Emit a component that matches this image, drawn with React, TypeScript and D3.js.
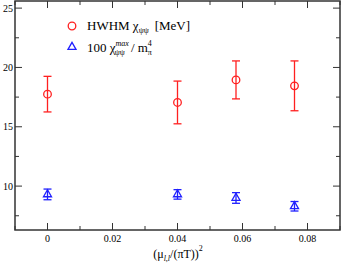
import { useRef, useEffect } from 'react'
import * as d3 from 'd3'

const xVals = [0, 0.04, 0.058, 0.076]
const hwhm = [17.75, 17.05, 18.95, 18.45]
const hwhmErr = [1.5, 1.8, 1.6, 2.1]
const chiMax = [9.3, 9.3, 9.0, 8.3]
const chiErr = [0.45, 0.4, 0.45, 0.4]
const xTicks = [0, 0.02, 0.04, 0.06, 0.08]
const yTicks = [10, 15, 20, 25]

export default function App() {
  const ref = useRef<SVGSVGElement>(null)

  useEffect(() => {
    const svg = d3.select(ref.current)
    svg.selectAll('*').remove()

    const left = 15, right = 340, top = 1, bottom = 230
    const x = d3.scaleLinear().domain([-0.01, 0.09]).range([left, right])
    const y = d3.scaleLinear().domain([6.3, 25.6]).range([bottom, top])
    const font = "'Liberation Serif', 'DejaVu Serif', serif"
    const axisColor = '#333'

    svg.append('rect')
      .attr('x', left).attr('y', top)
      .attr('width', right - left).attr('height', bottom - top)
      .attr('fill', 'none').attr('stroke', axisColor).attr('stroke-width', 1.5)

    const xMinor = d3.range(-0.01, 0.0901, 0.01)
    const yMinor = d3.range(7.5, 25.6, 2.5)

    // ticks, inward on all four sides
    xMinor.forEach(v => {
      const major = xTicks.some(t => Math.abs(t - v) < 1e-6)
      const len = major ? 7 : 4
      svg.append('line').attr('x1', x(v)).attr('x2', x(v)).attr('y1', bottom).attr('y2', bottom - len).attr('stroke', axisColor)
      svg.append('line').attr('x1', x(v)).attr('x2', x(v)).attr('y1', top).attr('y2', top + len).attr('stroke', axisColor)
    })
    yMinor.forEach(v => {
      const major = yTicks.includes(v)
      const len = major ? 7 : 4
      svg.append('line').attr('x1', left).attr('x2', left + len).attr('y1', y(v)).attr('y2', y(v)).attr('stroke', axisColor)
      svg.append('line').attr('x1', right).attr('x2', right - len).attr('y1', y(v)).attr('y2', y(v)).attr('stroke', axisColor)
    })

    xTicks.forEach(v => {
      svg.append('text').attr('x', x(v)).attr('y', bottom + 12)
        .attr('text-anchor', 'middle').attr('font-family', font).attr('font-size', 10)
        .text(v === 0 ? '0' : d3.format('.2f')(v))
    })
    yTicks.forEach(v => {
      svg.append('text').attr('x', left - 2).attr('y', y(v) + 3.5)
        .attr('text-anchor', 'end').attr('font-family', font).attr('font-size', 10)
        .text(v)
    })

    // x label
    const xl = svg.append('text').attr('x', 178).attr('y', 258)
      .attr('text-anchor', 'middle').attr('font-family', font).attr('font-size', 12)
    xl.append('tspan').text('(μ')
    xl.append('tspan').attr('font-size', 8).attr('dy', 3).attr('font-style', 'italic').text('l,l')
    xl.append('tspan').attr('dy', -3).text('/(πT))')
    xl.append('tspan').attr('font-size', 8).attr('dy', -7).text('2')

    function errorBars(vals: number[], errs: number[], color: string, cap: number) {
      xVals.forEach((xv, i) => {
        const cx = x(xv)
        const y1 = y(vals[i] + errs[i]), y2 = y(vals[i] - errs[i])
        svg.append('line').attr('x1', cx).attr('x2', cx).attr('y1', y1).attr('y2', y2).attr('stroke', color).attr('stroke-width', 1.3)
        svg.append('line').attr('x1', cx - cap).attr('x2', cx + cap).attr('y1', y1).attr('y2', y1).attr('stroke', color).attr('stroke-width', 1.3)
        svg.append('line').attr('x1', cx - cap).attr('x2', cx + cap).attr('y1', y2).attr('y2', y2).attr('stroke', color).attr('stroke-width', 1.3)
      })
    }

    const red = '#ff2020'
    const blue = '#2020ff'
    const tri = d3.symbol().type(d3.symbolTriangle).size(28)

    errorBars(hwhm, hwhmErr, red, 4)
    xVals.forEach((xv, i) => {
      svg.append('circle').attr('cx', x(xv)).attr('cy', y(hwhm[i])).attr('r', 3.8)
        .attr('fill', 'none').attr('stroke', red).attr('stroke-width', 1.3)
    })

    errorBars(chiMax, chiErr, blue, 4)
    xVals.forEach((xv, i) => {
      svg.append('path').attr('d', tri).attr('transform', `translate(${x(xv)},${y(chiMax[i])})`)
        .attr('fill', 'none').attr('stroke', blue).attr('stroke-width', 1.3)
    })

    // legend
    svg.append('circle').attr('cx', 72).attr('cy', 26).attr('r', 3.8)
      .attr('fill', 'none').attr('stroke', red).attr('stroke-width', 1.3)
    const l1 = svg.append('text').attr('x', 87).attr('y', 30).attr('font-family', font).attr('font-size', 13)
    l1.append('tspan').text('HWHM χ')
    l1.append('tspan').attr('font-size', 8).attr('dy', 3).text('ψψ')
    l1.append('tspan').attr('dy', -3).attr('dx', 6).text('[MeV]')

    svg.append('path').attr('d', tri).attr('transform', 'translate(72,47)')
      .attr('fill', 'none').attr('stroke', blue).attr('stroke-width', 1.3)
    const l2 = svg.append('text').attr('x', 87).attr('y', 52).attr('font-family', font).attr('font-size', 13)
    l2.append('tspan').text('100 χ')
    l2.append('tspan').attr('font-size', 8).attr('dy', -6).attr('font-style', 'italic').text('max')
    l2.append('tspan').attr('font-size', 8).attr('dy', 9).attr('dx', -14).text('ψψ')
    l2.append('tspan').attr('dy', -3).attr('dx', 6).text('/ m')
    l2.append('tspan').attr('font-size', 8).attr('dy', -6).text('4')
    l2.append('tspan').attr('font-size', 8).attr('dy', 9).attr('dx', -4).text('π')
  }, [])

  return (
    <svg ref={ref} width={343} height={267}
      style={{ position: 'absolute', left: 0, top: 0, background: 'white' }} />
  )
}
